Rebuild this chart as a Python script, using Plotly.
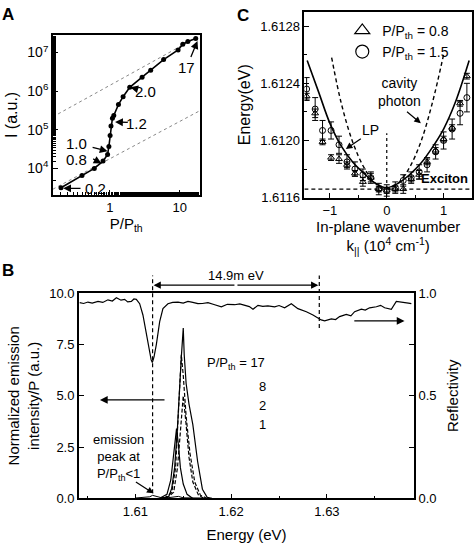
import math
import plotly.graph_objects as go

FONT = "Liberation Sans, Arial, sans-serif"

# ---------------- Panel A data ----------------
a_p = [0.2, 0.4, 0.6, 0.8, 0.93, 0.97, 1.01, 1.04, 1.09, 1.14, 1.33, 1.55, 1.93, 2.9, 3.85, 5.9, 9.5, 11.1, 13.1, 17.0]
a_i = [3160, 6600, 10000, 15500, 23000, 37000, 71000, 126000, 200000, 235000, 450000, 720000,
       1.26e6, 2.3e6, 3.5e6, 6.6e6, 1.17e7, 1.65e7, 1.95e7, 2.3e7]
a_guide_x = [0.153, 19.3]
a_guide_low = [2900, 3.1e5]
a_guide_high = [2.17e5, 2.73e7]
a_labels = ["0.2", "0.8", "1.0", "1.2", "2.0", "17"]

# ---------------- Panel C data ----------------
c_k = [-1.41, -1.26, -1.13, -0.98, -0.84, -0.70, -0.56, -0.42, -0.28, -0.14, 0.0,
       0.15, 0.29, 0.43, 0.57, 0.71, 0.86, 1.00, 1.15, 1.29, 1.41]
c_tri = [1.61231, 1.61219, 1.61199, 1.61188, 1.61187, 1.61183, 1.61177, 1.61171, 1.61174, 1.61166, 1.61165,
         1.61166, 1.61166, 1.61173, 1.61176, 1.61185, 1.61193, 1.61201, 1.61209, 1.61226, 1.61245]
c_tri_err = [0.00002, 0.00003, 0.00002, 0.00002, 0.00003, 0.00002, 0.00002, 0.00003, 0.00003, 0.00002, 0.00002,
             0.00002, 0.00003, 0.00002, 0.00003, 0.00002, 0.00002, 0.00002, 0.00002, 0.00002, 0.00002]
c_cir = [1.61236, 1.61222, 1.61207, 1.61207, 1.61197, 1.61185, 1.61180, 1.61176, 1.61174, 1.61166, 1.61165,
         1.61167, 1.61172, 1.61174, 1.61178, 1.61183, 1.61192, 1.61200, 1.61208, 1.61219, 1.61230]
c_cir_err = [0.00008, 0.00008, 0.00007, 0.00006, 0.00006, 0.00005, 0.00005, 0.00004, 0.00004, 0.00004, 0.00004,
             0.00004, 0.00004, 0.00004, 0.00005, 0.00005, 0.00005, 0.00006, 0.00007, 0.00008, 0.00010]
lp_k = [-1.40, -1.2, -1.0, -0.8, -0.6, -0.4, -0.2, 0.0, 0.2, 0.4, 0.6, 0.8, 1.0, 1.2, 1.45]
lp_e = [1.61256, 1.61234, 1.61212, 1.61196, 1.61185, 1.61177, 1.61170, 1.61167, 1.61170, 1.61176, 1.61184,
        1.61195, 1.61208, 1.61226, 1.61256]
cav_k = [-0.97, -0.8, -0.6, -0.4, -0.2, 0.0, 0.2, 0.4, 0.6, 0.8, 1.0]
cav_e = [1.61258, 1.61226, 1.61199, 1.61181, 1.61170, 1.61166, 1.61170, 1.61181, 1.61199, 1.61226, 1.61260]
exciton_e = 1.61166
zero_line_e = [1.61166, 1.61205]
c_range_k = [-1.45, 1.50]

# ---------------- Panel B data ----------------
refl_e = [1.60419, 1.60460, 1.60505, 1.60550, 1.60610, 1.60660, 1.60714, 1.60760, 1.60802, 1.60850, 1.60888,
          1.60920, 1.60958, 1.60985, 1.61010, 1.61045, 1.61079, 1.61115, 1.61149, 1.61165, 1.61177, 1.61195,
          1.61219, 1.61254, 1.61288, 1.61340, 1.61390, 1.61445, 1.61500, 1.61549, 1.61600, 1.61653, 1.61700,
          1.61758, 1.61820, 1.61898, 1.61960, 1.62036, 1.62090, 1.62141, 1.62190, 1.62228, 1.62280, 1.62330,
          1.62384, 1.62454, 1.62500, 1.62558, 1.62628, 1.62697, 1.62740, 1.62785, 1.62854, 1.62906, 1.62940,
          1.62976, 1.63046, 1.63090, 1.63132, 1.63202, 1.63250, 1.63289, 1.63359, 1.63400, 1.63445, 1.63516,
          1.63560, 1.63602, 1.63672, 1.63724, 1.63793, 1.63850, 1.63881]
refl_r = [0.954, 0.950, 0.957, 0.952, 0.960, 0.955, 0.968, 0.962, 0.978, 0.966, 0.970,
          0.958, 0.960, 0.972, 0.970, 0.949, 0.894, 0.800, 0.712, 0.675, 0.662, 0.690,
          0.750, 0.862, 0.925, 0.949, 0.955, 0.957, 0.952, 0.960, 0.955, 0.949, 0.950,
          0.954, 0.945, 0.934, 0.946, 0.944, 0.948, 0.941, 0.935, 0.922, 0.941, 0.936,
          0.938, 0.934, 0.940, 0.929, 0.949, 0.925, 0.918, 0.910, 0.894, 0.880, 0.870,
          0.865, 0.875, 0.872, 0.886, 0.897, 0.890, 0.910, 0.922, 0.918, 0.929, 0.934,
          0.941, 0.929, 0.922, 0.960, 0.957, 0.952, 0.949]
pk17_e = [1.6128, 1.6135, 1.6138, 1.6141, 1.6144, 1.6146, 1.6148, 1.6150, 1.6151, 1.6153, 1.6156, 1.6160,
          1.6165, 1.6170, 1.6175, 1.6180]
pk17_y = [0.0, 0.1, 0.5, 1.5, 3.5, 5.4, 6.9, 8.3, 7.0, 5.6, 4.6, 3.6, 1.8, 0.45, 0.05, 0.0]
pk8_e = [1.6130, 1.6138, 1.6142, 1.6145, 1.6147, 1.6148, 1.6150, 1.6153, 1.6157, 1.6162, 1.6168, 1.6175]
pk8_y = [0.0, 0.3, 1.5, 4.0, 6.2, 7.0, 6.0, 4.0, 2.2, 0.8, 0.15, 0.0]
pk2_e = [1.6132, 1.6140, 1.6144, 1.6147, 1.6150, 1.6153, 1.6156, 1.6160, 1.6166, 1.6172]
pk2_y = [0.0, 0.3, 1.5, 3.5, 5.0, 3.6, 2.0, 0.8, 0.15, 0.0]
pk1_e = [1.6125, 1.6133, 1.6137, 1.6140, 1.6142, 1.6143, 1.6145, 1.6147, 1.6150, 1.6154, 1.6160]
pk1_y = [0.0, 0.2, 0.9, 2.2, 3.2, 3.4, 2.6, 1.5, 0.7, 0.2, 0.0]
pkweak_e = [1.6100, 1.6110, 1.6115, 1.6118, 1.6121, 1.6126, 1.6135, 1.6145, 1.6150, 1.6170]
pkweak_y = [0.02, 0.04, 0.08, 0.15, 0.10, 0.05, 0.04, 0.10, 0.03, 0.02]
b_dash_e = [1.6118, 1.6292]
b_split_label = "14.9m eV"
b_power_labels = ["P/P<sub>th</sub> = 17", "8", "2", "1"]
b_range_e = [1.6041, 1.6391]


def px2x(px):
    return px / 474.0


def py2y(py):
    return 1 - py / 547.0


fig = go.Figure()

# Panel A
fig.add_trace(go.Scatter(x=a_guide_x, y=a_guide_low, mode="lines", line=dict(color="#888", width=1, dash="dot"),
                         xaxis="x", yaxis="y", showlegend=False))
fig.add_trace(go.Scatter(x=a_guide_x, y=a_guide_high, mode="lines", line=dict(color="#888", width=1, dash="dot"),
                         xaxis="x", yaxis="y", showlegend=False))
fig.add_trace(go.Scatter(x=a_p, y=a_i, mode="lines+markers", line=dict(color="black", width=1.6),
                         marker=dict(color="black", size=5), xaxis="x", yaxis="y", showlegend=False))

# Panel C
fig.add_trace(go.Scatter(x=c_range_k, y=[exciton_e, exciton_e], mode="lines",
                         line=dict(color="black", width=1.2, dash="4px,3px"), xaxis="x2", yaxis="y2", showlegend=False))
fig.add_trace(go.Scatter(x=[0, 0], y=zero_line_e, mode="lines",
                         line=dict(color="black", width=1.2, dash="dot"), xaxis="x2", yaxis="y2", showlegend=False))
fig.add_trace(go.Scatter(x=cav_k, y=cav_e, mode="lines",
                         line=dict(color="black", width=1.4, dash="4px,3px", shape="spline"),
                         xaxis="x2", yaxis="y2", showlegend=False))
fig.add_trace(go.Scatter(x=lp_k, y=lp_e, mode="lines", line=dict(color="black", width=1.6, shape="spline"),
                         xaxis="x2", yaxis="y2", showlegend=False))
fig.add_trace(go.Scatter(x=c_k, y=c_tri, mode="markers",
                         marker=dict(symbol="triangle-up-open", color="black", size=6, line=dict(width=1)),
                         error_y=dict(type="data", array=c_tri_err, color="black", thickness=1, width=3),
                         xaxis="x2", yaxis="y2", showlegend=False))
fig.add_trace(go.Scatter(x=c_k, y=c_cir, mode="markers",
                         marker=dict(symbol="circle-open", color="black", size=6, line=dict(width=1)),
                         error_y=dict(type="data", array=c_cir_err, color="black", thickness=1, width=3),
                         xaxis="x2", yaxis="y2", showlegend=False))
fig.add_trace(go.Scatter(x=[None], y=[None], mode="markers", name="P/P<sub>th</sub> = 0.8",
                         marker=dict(symbol="triangle-up-open", color="black", size=13, line=dict(width=1.2)),
                         xaxis="x2", yaxis="y2", showlegend=True))
fig.add_trace(go.Scatter(x=[None], y=[None], mode="markers", name="P/P<sub>th</sub> = 1.5",
                         marker=dict(symbol="circle-open", color="black", size=13, line=dict(width=1.2)),
                         xaxis="x2", yaxis="y2", showlegend=True))

# Panel B
fig.add_trace(go.Scatter(x=refl_e, y=refl_r, mode="lines", line=dict(color="black", width=1.2),
                         xaxis="x3", yaxis="y4", showlegend=False))
fig.add_trace(go.Scatter(x=pkweak_e, y=pkweak_y, mode="lines", line=dict(color="black", width=1),
                         xaxis="x3", yaxis="y3", showlegend=False))
fig.add_trace(go.Scatter(x=pk1_e, y=pk1_y, mode="lines", line=dict(color="black", width=1.2),
                         xaxis="x3", yaxis="y3", showlegend=False))
fig.add_trace(go.Scatter(x=pk2_e, y=pk2_y, mode="lines", line=dict(color="black", width=1.2, dash="4px,2px"),
                         xaxis="x3", yaxis="y3", showlegend=False))
fig.add_trace(go.Scatter(x=pk8_e, y=pk8_y, mode="lines", line=dict(color="black", width=1.2, dash="4px,2px"),
                         xaxis="x3", yaxis="y3", showlegend=False))
fig.add_trace(go.Scatter(x=pk17_e, y=pk17_y, mode="lines", line=dict(color="black", width=1.2),
                         xaxis="x3", yaxis="y3", showlegend=False))

tickfont = dict(family=FONT, size=13, color="black")
axcommon = dict(showline=True, linecolor="black", linewidth=1.5, mirror=True, ticks="inside",
                tickcolor="black", ticklen=5, showgrid=False, zeroline=False, tickfont=tickfont)

fig.update_layout(
    width=474, height=547, margin=dict(l=0, r=0, t=0, b=0),
    paper_bgcolor="white", plot_bgcolor="white",
    font=dict(family=FONT, size=13, color="black"),
    xaxis=dict(axcommon, type="log", domain=[px2x(53), px2x(200)], anchor="y",
               range=[-0.815, 1.2856], tickvals=[1, 10], ticktext=["1", "10"],
               minor=dict(ticks="inside", ticklen=3, tickcolor="black", showgrid=False),
               title=dict(text="P/P<sub>th</sub>", font=dict(size=15), standoff=2)),
    yaxis=dict(axcommon, type="log", domain=[py2y(193), py2y(29)], anchor="x",
               range=[3.32, 7.45], tickvals=[1e4, 1e5, 1e6, 1e7],
               ticktext=["10<sup>4</sup>", "10<sup>5</sup>", "10<sup>6</sup>", "10<sup>7</sup>"],
               minor=dict(ticks="inside", ticklen=3, tickcolor="black", showgrid=False),
               tickfont=dict(family=FONT, size=14, color="black"),
               title=dict(text="I (a.u.)", font=dict(size=16), standoff=6)),
    xaxis2=dict(axcommon, domain=[px2x(305), px2x(473)], anchor="y2", range=c_range_k,
                tickvals=[-1, 0, 1], minor=dict(ticks="inside", ticklen=3, dtick=0.5, tickcolor="black"),
                title=dict(text="In-plane wavenumber<br>k<sub>||</sub> (10<sup>4</sup> cm<sup>-1</sup>)",
                           font=dict(size=15), standoff=4)),
    yaxis2=dict(axcommon, domain=[py2y(196), py2y(5)], anchor="x2", range=[1.6116, 1.6129],
                tickvals=[1.6116, 1.6120, 1.6124, 1.6128], tickformat=".4f",
                minor=dict(ticks="inside", ticklen=3, dtick=0.0002, tickcolor="black"),
                title=dict(text="Energy(eV)", font=dict(size=16), standoff=6)),
    xaxis3=dict(axcommon, domain=[px2x(79), px2x(415)], anchor="y3", range=b_range_e,
                tickvals=[1.61, 1.62, 1.63], ticktext=["1.61", "1.62", "1.63"],
                minor=dict(ticks="inside", ticklen=3, dtick=0.005, tickcolor="black"),
                title=dict(text="Energy (eV)", font=dict(size=15), standoff=12)),
    yaxis3=dict(axcommon, domain=[py2y(505.3), py2y(294.3)], anchor="x3", range=[0, 10],
                tickvals=[0, 2.5, 5, 7.5, 10], tickformat=".1f", mirror=False,
                title=dict(text="Normalized emission<br>intensity/P (a.u.)", font=dict(size=15), standoff=6)),
    yaxis4=dict(axcommon, overlaying="y3", side="right", anchor="x3", range=[0, 1],
                tickvals=[0, 0.25, 0.5, 0.75, 1.0], ticktext=["0.0", "", "0.5", "", "1.0"], mirror=False,
                title=dict(text="Reflectivity", font=dict(size=15), standoff=12)),
    legend=dict(x=px2x(343), y=py2y(8), xanchor="left", yanchor="top", bgcolor="rgba(0,0,0,0)",
                font=dict(family=FONT, size=14), itemsizing="trace", tracegroupgap=0),
)

ann = []
for t, x, y in [("A", 8, 8), ("B", 8, 271), ("C", 244, 9)]:
    ann.append(dict(text="<b>%s</b>" % t, x=px2x(x), y=py2y(y), xref="paper", yref="paper",
                    showarrow=False, font=dict(size=17, family=FONT), xanchor="center", yanchor="middle"))

a_ann = [
    (a_labels[0], (0.62, 3000), (0.40, 3050), (0.215, 3050)),
    (a_labels[1], (0.33, 17500), (0.55, 18500), (0.76, 13500)),
    (a_labels[2], (0.33, 44000), (0.54, 36000), (0.93, 28000)),
    (a_labels[3], (2.4, 150000), (1.9, 155000), (1.19, 160000)),
    (a_labels[4], (3.2, 1.0e6), (2.57, 1.12e6), (1.97, 1.26e6)),
    (a_labels[5], (12.6, 4.0e6), (14.2, 7.0e6), (18.0, 2.0e7)),
]
for lab, tp, tail, tip in a_ann:
    ann.append(dict(text=lab, x=math.log10(tp[0]), y=math.log10(tp[1]), xref="x", yref="y", showarrow=False,
                    font=dict(size=15), xanchor="center", yanchor="middle"))
    ann.append(dict(text="", x=math.log10(tip[0]), y=math.log10(tip[1]), ax=math.log10(tail[0]),
                    ay=math.log10(tail[1]), xref="x", yref="y", axref="x", ayref="y", showarrow=True,
                    arrowhead=2, arrowsize=1.2, arrowwidth=1.3, arrowcolor="black"))

ann.append(dict(text="<b>Exciton</b>", x=1.47, y=1.61166, xref="x2", yref="y2", showarrow=False,
                xanchor="right", yanchor="bottom", font=dict(size=13), yshift=1))
ann.append(dict(text="LP", x=-0.28, y=1.61207, xref="x2", yref="y2", showarrow=False, font=dict(size=14)))
ann.append(dict(text="", x=-0.72, y=1.61194, ax=-0.43, ay=1.61202, xref="x2", yref="y2", axref="x2", ayref="y2",
                showarrow=True, arrowhead=2, arrowsize=1.1, arrowwidth=1.2, arrowcolor="black"))
ann.append(dict(text="cavity<br>photon", x=0.22, y=1.61234, xref="x2", yref="y2", showarrow=False,
                font=dict(size=14)))
ann.append(dict(text="", x=0.60, y=1.61212, ax=0.33, ay=1.61221, xref="x2", yref="y2", axref="x2", ayref="y2",
                showarrow=True, arrowhead=2, arrowsize=1.1, arrowwidth=1.2, arrowcolor="black"))

ann.append(dict(text=b_split_label, x=(b_dash_e[0] + b_dash_e[1]) / 2, y=py2y(276), xref="x3", yref="paper",
                showarrow=False, font=dict(size=13)))
mid = (b_dash_e[0] + b_dash_e[1]) / 2
for tipx in b_dash_e:
    ann.append(dict(text="", x=tipx, y=py2y(286), ax=mid, ay=0, xref="x3", yref="paper",
                    axref="x3", ayref="pixel", showarrow=True, arrowhead=2, arrowsize=1.2, arrowwidth=1.2,
                    arrowcolor="black", standoff=1))
ann.append(dict(text=b_power_labels[0], x=1.6205, y=6.56, xref="x3", yref="y3", showarrow=False, font=dict(size=13)))
for lab, yv in zip(b_power_labels[1:], [5.46, 4.52, 3.62]):
    ann.append(dict(text=lab, x=1.6233, y=yv, xref="x3", yref="y3", showarrow=False, font=dict(size=13)))
ann.append(dict(text="emission<br>peak at<br>P/P<sub>th</sub>&lt;1", x=1.6082, y=2.0, xref="x3", yref="y3",
                showarrow=False, font=dict(size=13), align="center"))
ann.append(dict(text="", x=1.6119, y=0.25, ax=1.6099, ay=0.85, xref="x3", yref="y3", axref="x3", ayref="y3",
                showarrow=True, arrowhead=2, arrowsize=1.1, arrowwidth=1.2, arrowcolor="black"))
ann.append(dict(text="", x=1.6063, y=4.8, ax=1.6132, ay=4.8, xref="x3", yref="y3", axref="x3", ayref="y3",
                showarrow=True, arrowhead=2, arrowsize=1.2, arrowwidth=1.3, arrowcolor="black"))
ann.append(dict(text="", x=1.6381, y=8.65, ax=1.6327, ay=8.65, xref="x3", yref="y3", axref="x3", ayref="y3",
                showarrow=True, arrowhead=2, arrowsize=1.2, arrowwidth=1.3, arrowcolor="black"))
fig.update_layout(annotations=ann)

shapes = [
    dict(type="line", xref="x3", yref="paper", x0=b_dash_e[0], x1=b_dash_e[0], y0=py2y(500), y1=py2y(276),
         line=dict(color="black", width=1.2, dash="4px,3px")),
    dict(type="line", xref="x3", yref="paper", x0=b_dash_e[1], x1=b_dash_e[1], y0=py2y(330), y1=py2y(276),
         line=dict(color="black", width=1.2, dash="4px,3px")),
]
fig.update_layout(shapes=shapes)

fig.write_html("out.html", config={"displayModeBar": False},
               post_script="document.body.style.margin='0px';document.body.style.overflow='hidden';")
